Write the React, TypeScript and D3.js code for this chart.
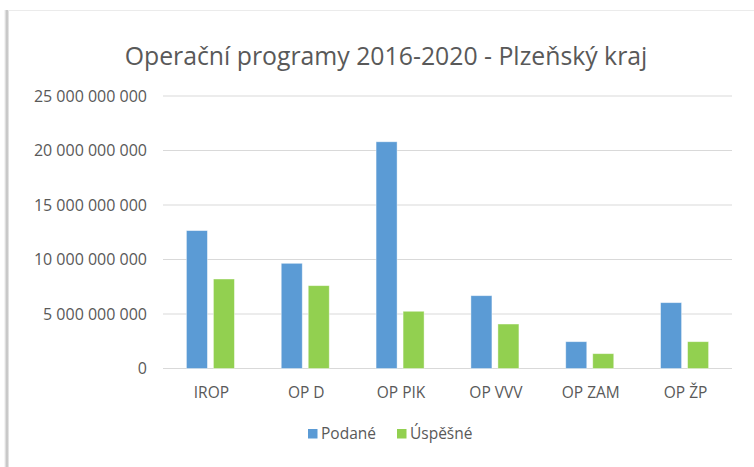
import * as d3 from "d3";

// categories and series (values in CZK)
const categories = ["IROP", "OP D", "OP PIK", "OP VVV", "OP ZAM", "OP ŽP"];
const seriesNames = ["Podané", "Úspěšné"];
const podane = [12.65e9, 9.65e9, 20.8e9, 6.68e9, 2.46e9, 6.04e9];
const uspesne = [8.21e9, 7.6e9, 5.25e9, 4.08e9, 1.36e9, 2.46e9];
const yTicks = [0, 5e9, 10e9, 15e9, 20e9, 25e9];
const title = "Operační programy 2016-2020 - Plzeňský kraj";

const colors = ["#5B9BD5", "#92D050"];
const textColor = "#595959";
const font = "'Open Sans', sans-serif";

const W = 754;
const H = 467;

export default function App() {
  const x = d3.scaleBand<string>().domain(categories).range([163, 732]);
  const x1 = d3
    .scaleBand<string>()
    .domain(seriesNames)
    .range([0, 48])
    .paddingInner(6 / 27);
  const y = d3.scaleLinear().domain([0, 25e9]).range([368.5, 96]);
  const fmt = (v: number) => d3.format(",")(v).replace(/,/g, " ");
  const offset = (x.bandwidth() - 48) / 2;
  const series = [podane, uspesne];

  return (
    <svg
      width={W}
      height={H}
      style={{ position: "absolute", left: 0, top: 0, background: "#fff" }}
    >
      <defs>
        <linearGradient id="shadowL" x1="0" x2="1" y1="0" y2="0">
          <stop offset="0" stopColor="#fff" />
          <stop offset="0.6" stopColor="#bdbdbd" />
          <stop offset="1" stopColor="#efefef" />
        </linearGradient>
      </defs>
      {/* frame */}
      <rect x={4} y={10} width={5} height={H} fill="url(#shadowL)" />
      <line x1={8} x2={W} y1={10.5} y2={10.5} stroke="#ebebeb" />

      <text
        x={386}
        y={65}
        textAnchor="middle"
        fill={textColor}
        fontFamily={font}
        fontSize={24.8}
      >
        {title}
      </text>

      {/* grid + y labels */}
      {yTicks.map((t) => (
        <g key={t}>
          <line
            x1={163}
            x2={732}
            y1={y(t)}
            y2={y(t)}
            stroke="#d9d9d9"
            strokeWidth={1}
          />
          <text
            x={147}
            y={y(t)}
            dy="0.35em"
            textAnchor="end"
            fill={textColor}
            fontFamily={font}
            fontSize={16}
          >
            {fmt(t)}
          </text>
        </g>
      ))}

      {/* bars */}
      {categories.map((c, i) => (
        <g key={c} transform={`translate(${(x(c) as number) + offset},0)`}>
          {seriesNames.map((s, j) => (
            <rect
              key={s}
              x={x1(s)}
              y={y(series[j][i])}
              width={x1.bandwidth()}
              height={y(0) - y(series[j][i])}
              fill={colors[j]}
              stroke="#ffffff"
              strokeOpacity={0.5}
              strokeWidth={0.8}
            />
          ))}
          <text
            x={x.bandwidth() / 2 - offset + 1}
            y={398}
            textAnchor="middle"
            fill={textColor}
            fontFamily={font}
            fontSize={15.5}
          >
            {c}
          </text>
        </g>
      ))}

      {/* legend */}
      {seriesNames.map((s, j) => {
        const lx = j === 0 ? 308 : 397;
        return (
          <g key={s}>
            <rect x={lx} y={429} width={9.5} height={9.5} fill={colors[j]} />
            <text
              x={lx + 13}
              y={439}
              fill={textColor}
              fontFamily={font}
              fontSize={15.5}
            >
              {s}
            </text>
          </g>
        );
      })}
    </svg>
  );
}
